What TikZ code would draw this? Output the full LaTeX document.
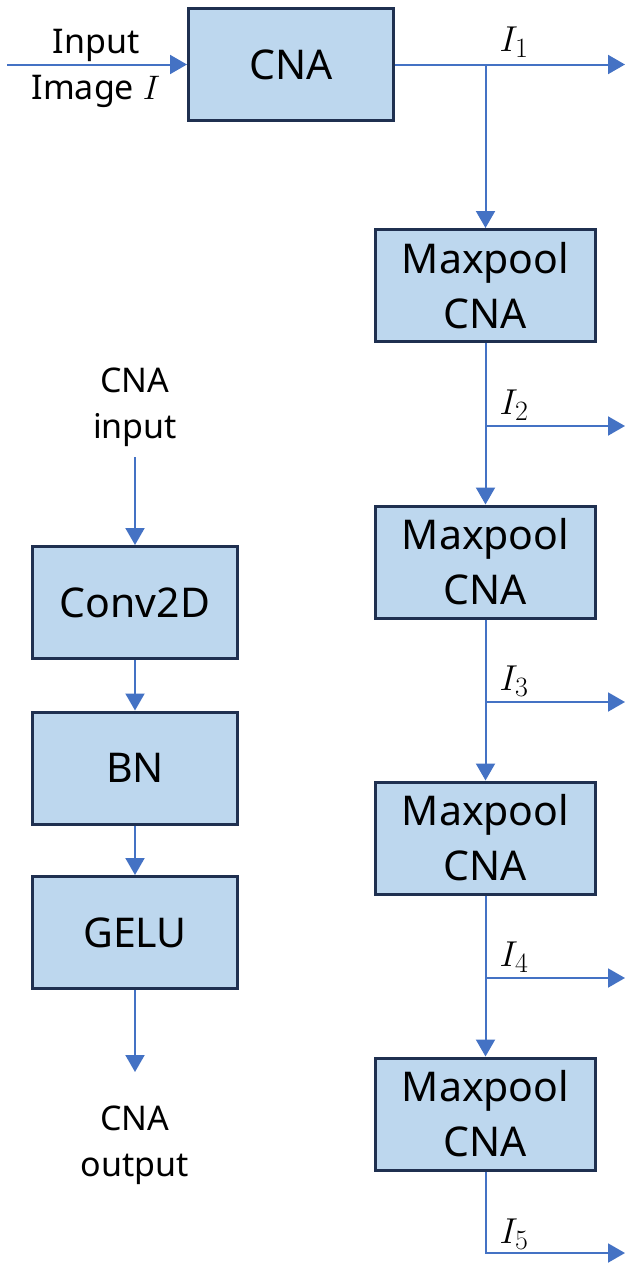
\RequirePackage{fix-cm}
\documentclass[tikz,border=0pt]{standalone}
\usepackage{fontspec}
\setmainfont{Noto Sans}
\usetikzlibrary{arrows.meta}
\DeclareMathSizes{36}{36}{28}{22}
\definecolor{boxfill}{HTML}{BDD7EE}
\definecolor{boxline}{HTML}{1F3050}
\definecolor{linkblue}{HTML}{4472C4}
\tikzset{
  blockbox/.style={draw=boxline, fill=boxfill, line width=3pt, inner sep=0pt,
    minimum height=112pt, align=center, font=\fontsize{41}{55}\selectfont},
  narrowbox/.style={blockbox, minimum width=205pt},
  widebox/.style={blockbox, minimum width=220pt},
  link/.style={draw=linkblue, line width=2pt},
  arr/.style={link, -{Triangle[length=17pt,width=19pt]}},
  lbl/.style={align=center, inner sep=0pt, font=\fontsize{34}{46}\selectfont},
  ilbl/.style={inner sep=0pt, font=\fontsize{36}{40}\selectfont}
}
\begin{document}
\begin{tikzpicture}[x=1pt,y=-1pt]
\useasboundingbox (0,0) rectangle (637,1269);
% main column
\node[narrowbox] (cna) at (291,64.5) {CNA};
\node[widebox] (mp1) at (485.5,285.5) {Maxpool\\CNA};
\node[widebox] (mp2) at (485.5,562) {Maxpool\\CNA};
\node[widebox] (mp3) at (485.5,838) {Maxpool\\CNA};
\node[widebox] (mp4) at (485.5,1114) {Maxpool\\CNA};
% left column
\node[narrowbox] (conv) at (135,602.5) {Conv2D};
\node[narrowbox] (bn) at (135,768) {BN};
\node[narrowbox] (gelu) at (135,932.5) {GELU};
% labels
\node[lbl] (inlbl) at (96,68) {Input\\Image $I$};
\node[lbl] (cnain) at (135,407) {CNA\\input};
\node[lbl] (cnaout) at (135,1145) {CNA\\output};
\node[ilbl] (l1) at (514,42) {$I_1$};
\node[ilbl] (l2) at (514,405) {$I_2$};
\node[ilbl] (l3) at (514,681) {$I_3$};
\node[ilbl] (l4) at (514,957) {$I_4$};
\node[ilbl] (l5) at (514,1234) {$I_5$};
% coordinates
\coordinate (src) at (7,64.5);
\coordinate (o1) at (625,64.5);
\coordinate (j1) at (485.5,64.5);
\coordinate (j2) at (485.5,426);
\coordinate (o2) at (625,426);
\coordinate (j3) at (485.5,702);
\coordinate (o3) at (625,702);
\coordinate (j4) at (485.5,978);
\coordinate (o4) at (625,978);
\coordinate (j5) at (485.5,1253);
\coordinate (o5) at (625,1253);
\coordinate (cin) at (135,457);
\coordinate (cout) at (135,1072);
% connectors
\draw[arr] (src) -- (cna.west);
\draw[arr] (cna.east) -- (o1);
\draw[arr] (j1) -- (mp1.north);
\draw[arr] (mp1.south) -- (mp2.north);
\draw[arr] (j2) -- (o2);
\draw[arr] (mp2.south) -- (mp3.north);
\draw[arr] (j3) -- (o3);
\draw[arr] (mp3.south) -- (mp4.north);
\draw[arr] (j4) -- (o4);
\draw[arr] (mp4.south) -- (j5) -- (o5);
\draw[arr] (cin) -- (conv.north);
\draw[arr] (conv.south) -- (bn.north);
\draw[arr] (bn.south) -- (gelu.north);
\draw[arr] (gelu.south) -- (cout);
\end{tikzpicture}
\end{document}
